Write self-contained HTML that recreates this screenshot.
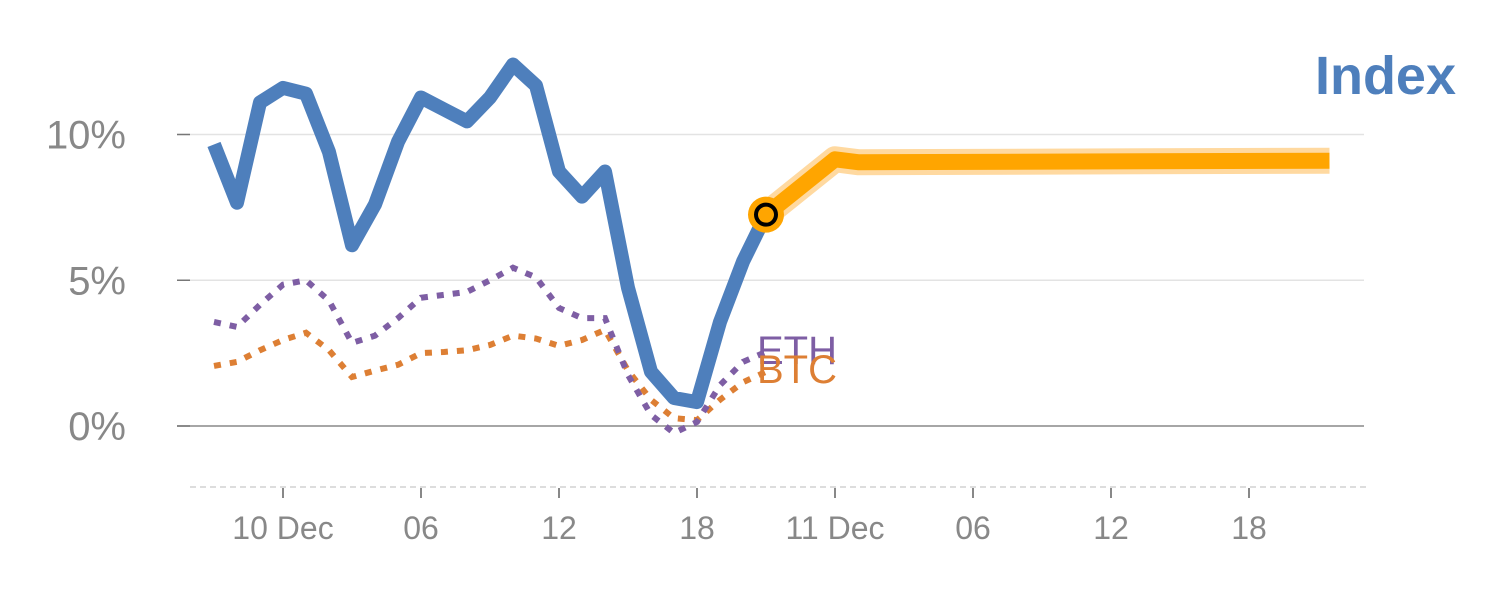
<!DOCTYPE html>
<html><head><meta charset="utf-8"><style>
html,body{margin:0;padding:0;background:#fff;}
svg{display:block;font-family:"Liberation Sans",Arial,sans-serif;}
</style></head><body>
<svg id="chart" width="1500" height="600" viewBox="0 0 1500 600" xmlns="http://www.w3.org/2000/svg">
<g id="grid"></g><g id="axes"></g><g id="series"></g>
<text x="1456" y="94" text-anchor="end" font-size="54" font-weight="bold" fill="#4e7fbc">Index</text>
</svg>
<script>
// hours from 00:00 10 Dec
const hours = [-3,-2,-1,0,1,2,3,4,5,6,7,8,9,10,11,12,13,14,15,16,17,18,19,20,21];
const indexVals = [9.66,7.66,11.1,11.6,11.4,9.4,6.2,7.6,9.75,11.27,10.86,10.45,11.27,12.4,11.68,8.73,7.87,8.73,4.74,1.86,0.96,0.82,3.57,5.64,7.25];
const ethVals = [3.57,3.4,4.16,4.85,5.0,4.3,2.85,3.1,3.7,4.4,4.5,4.6,5.0,5.43,5.1,4.05,3.7,3.7,1.75,0.38,-0.24,0.14,1.4,2.2,2.54];
const btcVals = [2.06,2.2,2.6,2.95,3.2,2.6,1.68,1.9,2.1,2.5,2.54,2.6,2.78,3.1,3.0,2.75,2.95,3.3,1.9,0.9,0.27,0.2,0.9,1.5,1.86];
const forecastHours = [21,24,25,45.5];
const forecastVals = [7.25,9.15,9.05,9.1];
const yTicks = [0,5,10];
const yTickLabels = ["0%","5%","10%"];
const xTicks = [0,6,12,18,24,30,36,42];
const xTickLabels = ["10 Dec","06","12","18","11 Dec","06","12","18"];

const NS="http://www.w3.org/2000/svg";
const X = h => 283 + h*23;
const Y = v => 426 - v*29.15;
function mk(tag,attrs,parent){const e=document.createElementNS(NS,tag);for(const k in attrs)e.setAttribute(k,attrs[k]);parent.appendChild(e);return e;}
const grid=document.getElementById('grid'),axes=document.getElementById('axes'),ser=document.getElementById('series');

yTicks.forEach((t,i)=>{
  const g=mk('line',{x1:177,x2:1364,y1:Y(t),y2:Y(t),stroke:t===0?'#888':'#e3e3e3','stroke-width':1.5},grid);
  
  
  const tk=mk('line',{x1:177,x2:190,y1:Y(t),y2:Y(t),stroke:'#777','stroke-width':1.5},axes);
  
  
  const l=mk('text',{x:126,y:Y(t)+14,'text-anchor':'end','font-size':40,fill:'#888'},axes);
  l.textContent=yTickLabels[i];
  
  
});
const base=mk('line',{x1:190,x2:1366,y1:487,y2:487,stroke:'#ddd','stroke-width':2,'stroke-dasharray':'6,4'},axes);


xTicks.forEach((t,i)=>{
  const tk=mk('line',{x1:X(t),x2:X(t),y1:488,y2:498,stroke:'#888','stroke-width':2},axes);
  
  
  const l=mk('text',{x:X(t),y:539,'text-anchor':'middle','font-size':32,fill:'#888'},axes);
  l.textContent=xTickLabels[i];
  
  
});
function pts(hs,vs){return hs.map((h,i)=>X(h)+','+Y(vs[i])).join(' ');}
const btc=mk('polyline',{points:pts(hours,btcVals),fill:'none',stroke:'#dd7f34','stroke-width':6,'stroke-dasharray':'7,9'},ser);


const eth=mk('polyline',{points:pts(hours,ethVals),fill:'none',stroke:'#7e5ea4','stroke-width':6,'stroke-dasharray':'7,9'},ser);


const idx=mk('polyline',{points:pts(hours,indexVals),fill:'none',stroke:'#4e7fbc','stroke-width':14,'stroke-linejoin':'round'},ser);


const halo=mk('polyline',{points:pts(forecastHours,forecastVals),fill:'none',stroke:'#ffd9a0','stroke-width':26,'stroke-linejoin':'round'},ser);


const fc=mk('polyline',{points:pts(forecastHours,forecastVals),fill:'none',stroke:'#ffa500','stroke-width':16,'stroke-linejoin':'round'},ser);


const last=hours.length-1;
const m1=mk('circle',{cx:X(hours[last]),cy:Y(indexVals[last]),r:18,fill:'#ffa500'},ser);


const m2=mk('circle',{cx:X(hours[last]),cy:Y(indexVals[last]),r:10,fill:'#ffa500',stroke:'#000','stroke-width':4},ser);


const le=mk('text',{x:757,y:364,'font-size':40,fill:'#7e5ea4'},ser);
le.textContent='ETH';


const lb=mk('text',{x:757,y:383,'font-size':40,fill:'#dd7f34'},ser);
lb.textContent='BTC';


</script>
</body></html>
